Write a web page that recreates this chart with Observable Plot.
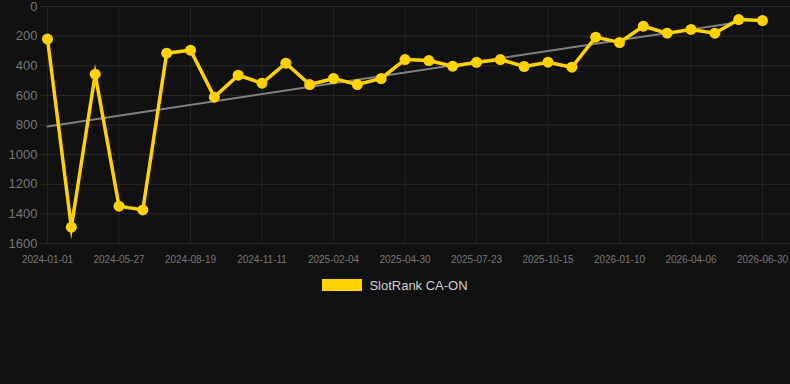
<!DOCTYPE html>
<html>
<head>
<meta charset="utf-8">
<script src="https://cdn.jsdelivr.net/npm/d3@7"></script>
<script src="https://cdn.jsdelivr.net/npm/@observablehq/plot@0.6"></script>
<style>
  html, body { margin: 0; padding: 0; background: #111111; }
  body { width: 790px; height: 384px; overflow: hidden; font-family: "Liberation Sans", Arial, sans-serif; }
  #legend { display: flex; justify-content: center; align-items: center; margin-top: 8px; height: 14px; }
  #legend .sw { width: 40px; height: 12px; background: #FFD200; margin-right: 7px; }
  #legend .lb { color: #d0d0d0; font-size: 13px; }
</style>
</head>
<body>
<div id="chart"></div>
<div id="legend"><div class="sw"></div><div class="lb">SlotRank CA-ON</div></div>
<script>
const dates = [
  "2024-01-01","2024-02-19","2024-04-08","2024-05-27","2024-06-24","2024-07-22",
  "2024-08-19","2024-09-16","2024-10-14","2024-11-11","2024-12-09","2025-01-06",
  "2025-02-04","2025-03-04","2025-04-01","2025-04-30","2025-05-28","2025-06-25",
  "2025-07-23","2025-08-20","2025-09-17","2025-10-15","2025-11-13","2025-12-12",
  "2026-01-10","2026-02-08","2026-03-09","2026-04-06","2026-05-04","2026-06-01",
  "2026-06-30"
];
const ranks = [
  220, 1490, 457, 1348, 1373, 315,
  295, 612, 464, 518, 383, 527,
  486, 527, 486, 358, 365, 403,
  377, 358, 405, 376, 410, 207,
  243, 133, 180, 155, 180, 88,
  95
];
const tickLabels = ["2024-01-01","2024-05-27","2024-08-19","2024-11-11","2025-02-04",
  "2025-04-30","2025-07-23","2025-10-15","2026-01-10","2026-04-06","2026-06-30"];
const yTicks = [0, 200, 400, 600, 800, 1000, 1200, 1400, 1600];
const trendDates = ["2024-01-01", "2026-06-01"];
const trendValues = [810, 106];

const idx = d => dates.indexOf(d);
const data = dates.map((d, i) => ({i, rank: ranks[i]}));
const trend = trendDates.map((d, k) => ({i: idx(d), rank: trendValues[k]}));
const xTicks = tickLabels.map(idx);

const color = "#FFD200";
const chart = Plot.plot({
  width: 790,
  height: 270,
  marginTop: 6,
  marginBottom: 27,
  marginLeft: 40,
  marginRight: 0,
  style: {background: "#111111", fontFamily: "Liberation Sans, Arial, sans-serif"},
  x: {type: "linear", domain: [0, dates.length - 1], range: [47, 762], label: null},
  y: {domain: [0, 1600], range: [6, 243], label: null},
  marks: [
    Plot.ruleY(yTicks, {y: d => d, stroke: "#2a2a2a", strokeWidth: 1}),
    Plot.ruleX(xTicks, {x: d => d, stroke: "#222222", strokeWidth: 1}),
    Plot.axisY(yTicks, {tickSize: 0, tickPadding: 3, fontSize: 13, fill: "#777777", label: null, tickFormat: d => String(d)}),
    Plot.axisX(xTicks, {tickSize: 0, tickPadding: 12, fontSize: 10, fill: "#777777", label: null, tickFormat: i => dates[i]}),
    Plot.line(trend, {x: "i", y: "rank", stroke: "#808080", strokeWidth: 2}),
    Plot.line(data, {x: "i", y: "rank", stroke: color, strokeWidth: 3.5, strokeLinejoin: "miter", strokeMiterlimit: 10}),
    Plot.dot(data, {x: "i", y: "rank", r: 5.5, fill: color, stroke: null})
  ]
});
document.getElementById("chart").appendChild(chart);
</script>
</body>
</html>
